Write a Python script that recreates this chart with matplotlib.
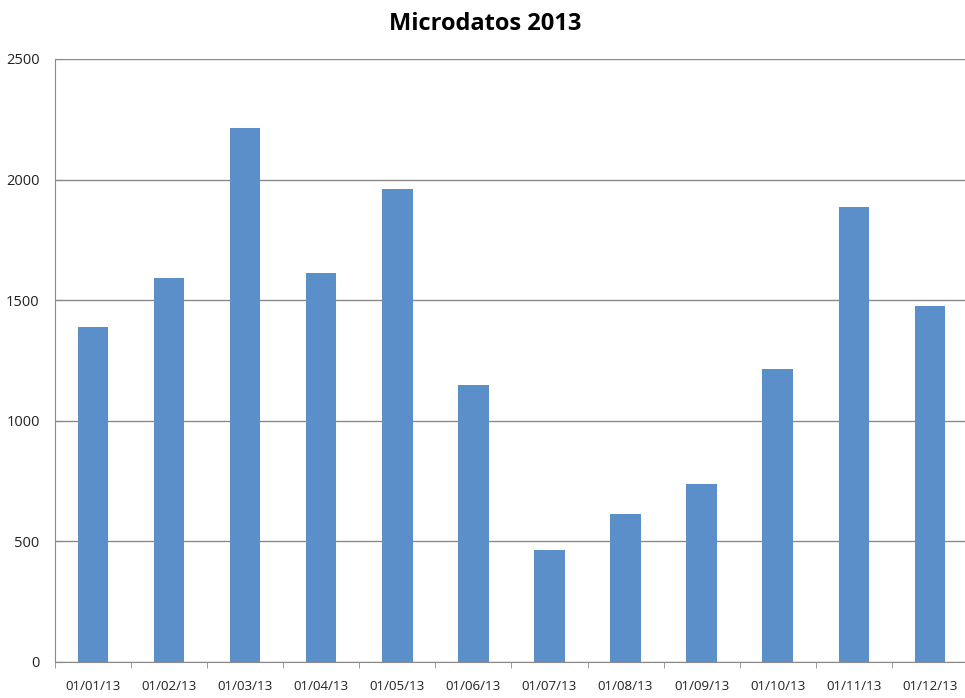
import numpy as np
import matplotlib.pyplot as plt

# Datos
fechas = ['01/01/13', '01/02/13', '01/03/13', '01/04/13', '01/05/13', '01/06/13',
          '01/07/13', '01/08/13', '01/09/13', '01/10/13', '01/11/13', '01/12/13']
valores = [1388, 1592, 2213, 1612, 1961, 1147, 464, 614, 738, 1215, 1886, 1476]

plt.rcParams['font.family'] = ['Open Sans', 'DejaVu Sans']

fig = plt.figure(figsize=(9.65, 6.98), dpi=100)
ax = fig.add_axes([0.057, 0.0516, 0.946, 0.864])

x = np.arange(len(fechas))
ax.bar(x, valores, width=0.4, color='#5b8fc9', zorder=3)

ax.set_xlim(-0.5, len(fechas) - 0.5)
ax.set_ylim(0, 2500)
ax.set_yticks([0, 500, 1000, 1500, 2000, 2500])
ax.yaxis.grid(True, color='#8a8a8a', linewidth=1, zorder=0)

ax.set_xticks(x)
ax.set_xticklabels(fechas, fontsize=9.6, color='#222222')
ax.set_xticks(np.arange(len(fechas) + 1) - 0.5, minor=True)
ax.tick_params(axis='x', which='major', length=0, pad=13)
ax.tick_params(axis='x', which='minor', length=4, direction='out', color='#8a8a8a')
ax.tick_params(axis='y', length=5, direction='in', color='#8a8a8a', pad=11,
               labelsize=10.5, labelcolor='#222222')

for s in ['top', 'right']:
    ax.spines[s].set_visible(False)
for s in ['left', 'bottom']:
    ax.spines[s].set_color('#8a8a8a')

fig.text(0.503, 0.966, 'Microdatos 2013', fontsize=17, fontweight='bold',
         ha='center', va='center')

fig.savefig('out.png', dpi=100)
